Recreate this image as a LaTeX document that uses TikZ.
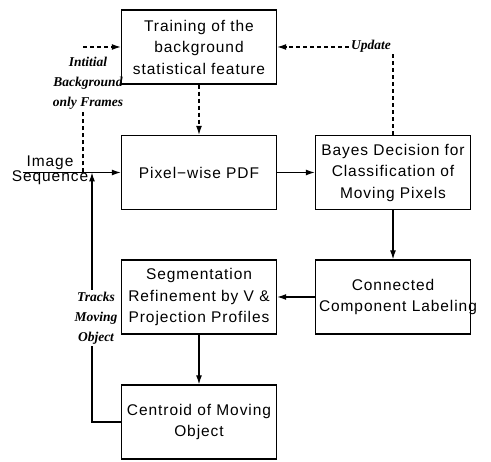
\documentclass[tikz,border=0pt]{standalone}
\usepackage{fontspec}
\setmainfont{Liberation Serif}
\setsansfont{Liberation Sans}[LetterSpace=6]
\usetikzlibrary{arrows.meta}

\begin{document}
\begin{tikzpicture}[x=1pt, y=-1pt,
        blk/.style={draw, rectangle, line width=1.3pt, minimum width=155pt, minimum height=74pt,
            inner sep=0pt, align=center, font=\sffamily\fontsize{15.5}{21.5}\selectfont},
        lbl/.style={align=center, inner sep=2pt, font=\bfseries\itshape\fontsize{13.5}{20}\selectfont},
        ln/.style={line width=1.2pt},
        dsh/.style={ln, dash pattern=on 4pt off 3pt},
        arr/.style={ln, -{Latex[length=9pt,width=6pt]}}]
        \useasboundingbox (0,0) rectangle (491,462);

        \node[blk] (train) at (199,47) {Training of the\\background\\statistical feature};
        \node[blk] (pdf) at (199,172.5) {Pixel−wise PDF};
        \node[blk] (bayes) at (393,172.5) {Bayes Decision for\\Classification of\\Moving Pixels};
        \node[blk] (conn) at (393,297) {Connected\\\makebox[148pt][l]{Component Labeling}};
        \node[blk] (seg) at (199,297) {Segmentation\\Refinement by V \&\\Projection Profiles};
        \node[blk] (cent) at (199,422) {Centroid of Moving\\Object};

        \node[align=center, inner sep=0pt, font=\sffamily\fontsize{15.5}{15}\selectfont] (img) at (50,170) {Image\\Sequence};
        \node[lbl] (bgl) at (88,83) {Intitial\\Background\\only Frames};
        \node[lbl] (upd) at (371,46) {Update};
        \node[lbl] (trk) at (96,318) {Tracks\\Moving\\Object};

        \coordinate (src) at (23,172.5);
        \coordinate (ini) at (83,172.5);
        \coordinate (tk) at (92,172.5);

        % main flow
        \draw[arr] (src) -- (pdf);
        \draw[arr, dsh] (train) -- (pdf);
        \draw[arr] (pdf) -- (bayes);
        \draw[arr] (bayes) -- (conn);
        \draw[arr] (conn) -- (seg);
        \draw[arr] (seg) -- (cent);

        % background frames
        \draw[dsh] (ini) -- (bgl.south -| ini);
        \draw[arr, dsh] (train.west -| ini) -- (train.west);

        % update loop
        \draw[dsh] (bayes.north) -- (bayes.north |- upd.south);
        \draw[arr, dsh] (train.east -| upd.west) -- (train.east);

        % tracking loop
        \draw[ln] (cent.west) -| (trk.south -| tk);
        \draw[arr] (trk.north -| tk) -- (tk);
\end{tikzpicture}
\end{document}
